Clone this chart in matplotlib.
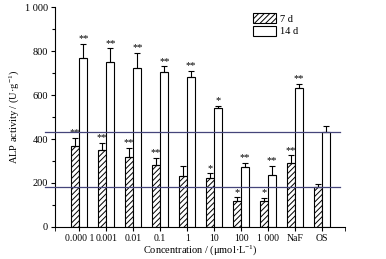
import matplotlib
matplotlib.use("Agg")
import matplotlib.pyplot as plt
import numpy as np
from matplotlib.ticker import MultipleLocator, FuncFormatter

plt.rcParams['font.family'] = ['Liberation Serif', 'DejaVu Serif']
plt.rcParams['mathtext.fontset'] = 'custom'
plt.rcParams['mathtext.rm'] = 'Liberation Serif'
plt.rcParams['mathtext.it'] = 'Liberation Serif:italic'
plt.rcParams['hatch.linewidth'] = 0.7

categories = ["0.000 1", "0.001", "0.01", "0.1", "1", "10", "100", "1 000", "NaF", "OS"]
d7_values = [370, 352, 318, 282, 230, 222, 118, 116, 290, 183]
d7_err = [35, 30, 42, 32, 47, 22, 18, 16, 36, 14]
d7_sig = ["**", "**", "**", "**", "", "*", "*", "*", "**", ""]
d14_values = [768, 750, 723, 705, 680, 540, 272, 236, 632, 432]
d14_err = [65, 62, 68, 25, 30, 10, 20, 42, 18, 27]
d14_sig = ["**", "**", "**", "**", "**", "*", "**", "**", "**", ""]
ref_lines = [432, 183]

fig = plt.figure(figsize=(3.86, 2.59), dpi=100)
ax = fig.add_axes([55/386, 1-227/259, 290/386, 220/259])

x = np.arange(len(categories))
w = 0.3
ax.bar(x - w/2, d7_values, w, color='white', edgecolor='black', hatch='//////', linewidth=0.8, label='7 d', zorder=2)
ax.bar(x + w/2, d14_values, w, color='white', edgecolor='black', linewidth=0.8, label='14 d', zorder=2)
ax.errorbar(x - w/2, d7_values, yerr=[np.zeros(len(x)), d7_err], fmt='none', ecolor='black', elinewidth=0.8, capsize=2.2, capthick=0.8, zorder=3)
ax.errorbar(x + w/2, d14_values, yerr=[np.zeros(len(x)), d14_err], fmt='none', ecolor='black', elinewidth=0.8, capsize=2.2, capthick=0.8, zorder=3)

for xi, v, e, s in zip(x - w/2, d7_values, d7_err, d7_sig):
    if s:
        ax.text(xi, v + e + 2, s, ha='center', va='bottom', fontsize=7.5)
for xi, v, e, s in zip(x + w/2, d14_values, d14_err, d14_sig):
    if s:
        ax.text(xi, v + e + 2, s, ha='center', va='bottom', fontsize=7.5)

for yv in ref_lines:
    ax.plot([-0.034, 0.983], [yv, yv], transform=ax.get_yaxis_transform(), color='#45457a', linewidth=0.9, clip_on=False, zorder=4)

ax.set_xlim(-0.9, 9.85)
ax.set_ylim(0, 1000)
ax.set_xticks(x)
ax.set_xticklabels(categories)
ax.set_xticks([-0.9, 9.85], minor=True)
ax.tick_params(axis='x', which='minor', length=3, direction='out')
ax.yaxis.set_major_locator(MultipleLocator(200))
ax.yaxis.set_minor_locator(MultipleLocator(100))
ax.yaxis.set_major_formatter(FuncFormatter(lambda v, p: "1 000" if v == 1000 else f"{int(v)}"))
ax.tick_params(axis='both', which='major', length=3, width=0.8, direction='out', labelsize=7.5, pad=2)
ax.tick_params(axis='x', which='major', labelsize=7.0)
ax.tick_params(axis='y', which='minor', length=2, width=0.8, direction='out')
for sp in ['top', 'right']:
    ax.spines[sp].set_visible(False)
for sp in ['left', 'bottom']:
    ax.spines[sp].set_linewidth(0.8)

ax.set_ylabel("ALP activity / (U·g$^{-1}$)", fontsize=7.5, labelpad=3)
ax.set_xlabel("Concentration / (μmol·L$^{-1}$)", fontsize=7.5, labelpad=0)

ax.legend(loc='upper left', bbox_to_anchor=(0.66, 1.0), frameon=False, fontsize=7.5,
          handlelength=2.2, handleheight=1.1, handletextpad=0.4, labelspacing=0.2, borderaxespad=0.2)

fig.savefig("out.png", dpi=100)
